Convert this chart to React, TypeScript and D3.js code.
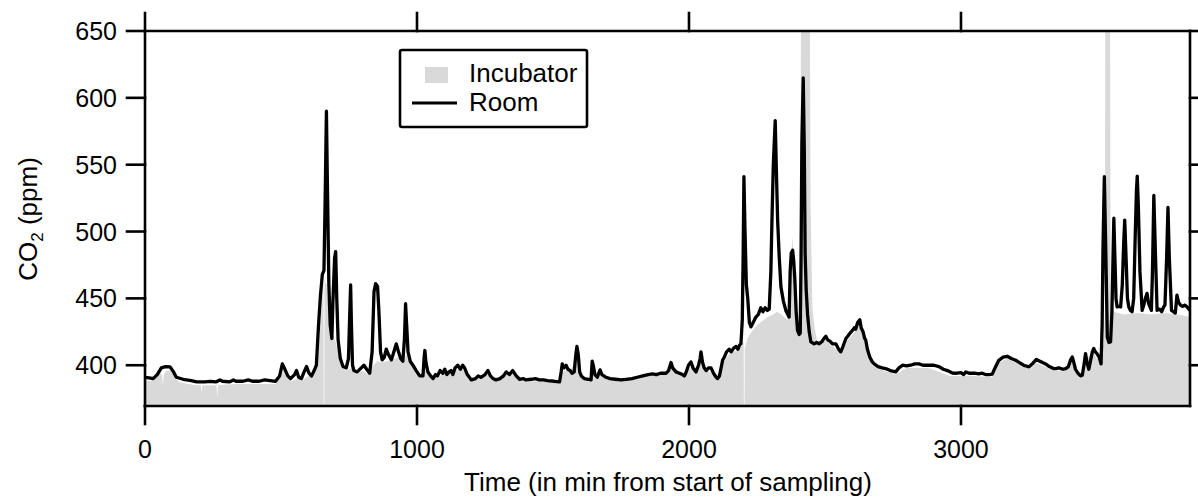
import React from "react";
import * as d3 from "d3";

const xTicks = [0, 1000, 2000, 3000];
const yTicks = [400, 450, 500, 550, 600, 650];
const legendLabels = ["Incubator", "Room"];
const xTitle = "Time (in min from start of sampling)";

// Room CO2 [minute, ppm]
const roomSeries: [number, number][] = [
  [0, 391], [15, 390.5], [30, 390], [45, 393], [60, 398], [75, 399], [92, 398.8], [105, 395], [115, 391],
  [140, 389.5], [170, 388.5], [190, 387.5], [220, 387.5], [240, 388], [260, 387.5], [275, 389], [285, 388],
  [310, 387.5], [325, 389], [335, 388], [360, 388], [380, 389], [395, 388], [420, 388], [440, 389], [460, 388.5],
  [480, 388], [495, 392], [505, 401], [512, 398], [525, 392], [535, 390], [550, 393], [557, 396], [565, 391],
  [575, 390], [585, 395], [594, 399], [603, 394], [612, 392], [622, 396], [630, 400], [638, 430], [645, 452],
  [652, 468], [658, 471], [662, 520], [667, 590], [671, 530], [676, 460], [681, 430], [687, 420], [691, 448],
  [697, 480], [701, 485], [705, 450], [710, 419], [718, 405], [728, 399], [740, 398], [748, 405], [753, 440],
  [756, 460], [759, 430], [763, 400], [768, 396], [780, 395], [795, 398], [805, 400], [815, 397], [826, 394],
  [835, 410], [842, 455], [848, 461], [855, 459], [860, 440], [866, 410], [872, 404], [880, 406], [887, 412],
  [895, 408], [906, 404], [915, 410], [924, 416], [932, 410], [940, 405], [948, 403], [954, 420], [958, 446],
  [962, 430], [967, 410], [975, 403], [985, 400], [997, 396], [1010, 392], [1022, 392], [1026, 405], [1029, 411],
  [1033, 402], [1040, 395], [1050, 392], [1059, 390], [1068, 393], [1075, 392], [1085, 396], [1095, 394],
  [1102, 397], [1110, 393], [1118, 395], [1125, 396], [1132, 393], [1140, 398], [1150, 400], [1160, 397],
  [1168, 400], [1175, 398], [1185, 393], [1200, 389], [1215, 390], [1225, 392], [1235, 391], [1250, 393],
  [1261, 396], [1270, 392], [1280, 390], [1290, 389], [1305, 390], [1318, 392], [1328, 395], [1340, 393],
  [1352, 396], [1365, 392], [1377, 389.5], [1390, 390], [1400, 389], [1420, 389.5], [1435, 390], [1450, 389],
  [1465, 389], [1480, 388.5], [1505, 388], [1524, 387.5], [1530, 395], [1534, 401], [1540, 398], [1548, 400],
  [1555, 397], [1563, 396], [1570, 394], [1578, 395], [1584, 408], [1588, 414], [1593, 408], [1598, 395],
  [1604, 392], [1615, 390], [1630, 389.5], [1640, 389], [1644, 403], [1648, 400], [1654, 393], [1663, 391],
  [1673, 396.5], [1680, 393], [1695, 391], [1710, 390], [1730, 389.5], [1750, 389], [1769, 389.5], [1790, 390],
  [1810, 391], [1830, 392], [1850, 393], [1866, 393.5], [1880, 393], [1895, 394], [1905, 394], [1916, 394],
  [1925, 396], [1934, 402], [1940, 398], [1952, 395], [1965, 394], [1976, 393], [1983, 392], [1990, 395],
  [1998, 400], [2007, 402.5], [2015, 398], [2026, 395], [2035, 400], [2041, 405], [2044, 410], [2050, 402],
  [2056, 398], [2063, 396], [2072, 398], [2081, 398], [2090, 394], [2100, 391], [2105, 390], [2112, 392],
  [2118, 398], [2124, 404], [2130, 406], [2138, 410], [2148, 412], [2155, 410], [2165, 413], [2173, 414],
  [2180, 412], [2186, 415], [2191, 416], [2196, 434], [2199, 480], [2202, 541], [2206, 500], [2211, 460],
  [2216, 450], [2222, 432], [2228, 428.7], [2236, 432], [2246, 436], [2255, 438], [2264, 443], [2272, 440],
  [2280, 443], [2288, 441], [2295, 442], [2301, 470], [2305, 508], [2310, 550], [2317, 583], [2322, 540],
  [2326, 508], [2332, 480], [2338, 458.6], [2347, 448], [2356, 441], [2368, 436], [2372, 470], [2376, 484],
  [2381, 486], [2385, 478], [2389, 465], [2394, 440], [2399, 426], [2405, 423], [2409, 424], [2412, 480],
  [2415, 566], [2420, 615], [2424, 560], [2427, 484], [2431, 456], [2436, 438], [2442, 425], [2448, 417.5],
  [2460, 416], [2470, 417], [2479, 416], [2490, 418], [2496, 420], [2503, 421.7], [2510, 419], [2518, 418],
  [2528, 416], [2540, 416], [2550, 412], [2558, 410], [2566, 414], [2577, 420], [2585, 422], [2592, 424],
  [2601, 426], [2608, 428], [2613, 427], [2620, 432], [2628, 434], [2633, 428], [2640, 425], [2646, 420],
  [2650, 418.7], [2656, 412], [2665, 406], [2674, 402.5], [2681, 401], [2695, 399], [2710, 398], [2723, 397.5],
  [2740, 396], [2760, 395], [2772, 398], [2785, 400], [2800, 399.5], [2815, 400], [2830, 401], [2846, 401],
  [2860, 400], [2880, 400], [2900, 400], [2919, 399], [2935, 397], [2950, 396], [2968, 394.2], [2985, 394],
  [3000, 394.5], [3010, 393], [3018, 395], [3030, 394], [3050, 394], [3065, 393.5], [3078, 394], [3090, 393],
  [3105, 393], [3115, 393.3], [3125, 398], [3139, 403.7], [3155, 406], [3170, 406.7], [3185, 405], [3201, 403.7],
  [3215, 402], [3230, 400], [3250, 398.8], [3262, 401], [3277, 404.3], [3290, 403], [3300, 402], [3311, 401],
  [3325, 399], [3340, 397.5], [3348, 397.5], [3360, 398], [3375, 397], [3385, 397.5], [3395, 399], [3403, 404],
  [3409, 406.2], [3415, 402], [3421, 397], [3430, 394], [3440, 392], [3446, 392.5], [3452, 400], [3458, 408.7],
  [3463, 402], [3470, 397], [3477, 404], [3483, 410], [3488, 412.5], [3494, 410], [3500, 408.7], [3508, 406],
  [3515, 401], [3519, 430], [3522, 486], [3527, 541], [3532, 490], [3538, 421], [3544, 417], [3550, 417.5],
  [3555, 440], [3559, 480], [3562, 510], [3566, 480], [3570, 450], [3574, 443.6], [3580, 444], [3587, 443.6],
  [3593, 460], [3598, 490], [3602, 508.5], [3607, 480], [3612, 450], [3617, 443.6], [3623, 441], [3629, 440],
  [3635, 450], [3641, 500], [3645, 530], [3648, 541.5], [3652, 520], [3658, 470], [3666, 441], [3672, 445],
  [3678, 450], [3684, 453.7], [3690, 446], [3700, 441], [3704, 470], [3709, 527], [3714, 490], [3721, 441],
  [3730, 442], [3738, 440], [3745, 443.6], [3750, 445], [3756, 480], [3761, 518], [3766, 480], [3774, 441],
  [3781, 440], [3788, 439], [3794, 452.4], [3800, 447], [3807, 445], [3815, 444], [3824, 445], [3831, 443.6],
  [3842, 441],
];

// Incubator CO2 [minute, ppm]
const incubatorSeries: [number, number][] = [
  [0, 389], [20, 388], [40, 390], [55, 395], [63, 392], [66, 384], [69, 393], [80, 396], [95, 396], [110, 390],
  [130, 387], [160, 386], [190, 385], [205, 385], [208, 380], [211, 385], [240, 385], [263, 385], [266, 376],
  [269, 385], [300, 385.5], [340, 386], [380, 386], [420, 386], [460, 386], [480, 386], [500, 391], [510, 397],
  [520, 392], [540, 388], [560, 390], [580, 389], [600, 392], [620, 393], [635, 400], [645, 430], [652, 455],
  [656, 462], [657, 360], [659, 360], [660, 464], [668, 460], [675, 440], [685, 425], [700, 418], [710, 410],
  [720, 400], [735, 396], [750, 397], [760, 398], [780, 394], [800, 396], [820, 393], [840, 400], [855, 403],
  [870, 402], [890, 403], [910, 404], [930, 406], [950, 404], [960, 408], [975, 401], [990, 398], [1010, 392],
  [1028, 398], [1045, 393], [1080, 392], [1110, 394], [1150, 397], [1175, 396], [1200, 388], [1260, 393],
  [1300, 388], [1330, 393], [1355, 394], [1380, 388], [1450, 388], [1524, 387], [1540, 396], [1560, 396],
  [1590, 403], [1605, 392], [1640, 388], [1650, 396], [1673, 394], [1700, 390], [1770, 389], [1850, 392],
  [1920, 393], [1935, 398], [1980, 391], [2007, 399], [2030, 394], [2045, 404], [2070, 396], [2105, 389],
  [2130, 403], [2150, 409], [2175, 411], [2195, 414], [2201, 418], [2202, 360], [2204, 360], [2205, 412],
  [2215, 420], [2230, 425], [2250, 430], [2270, 433], [2290, 436], [2310, 438], [2323, 440], [2340, 438],
  [2360, 434], [2370, 460], [2380, 496], [2386, 480], [2395, 440], [2405, 424], [2410, 460], [2412, 700],
  [2444, 700], [2447, 520], [2454, 441], [2462, 428], [2470, 419], [2480, 415], [2500, 419], [2530, 414],
  [2558, 408], [2580, 418], [2605, 424], [2628, 431], [2650, 416], [2674, 400], [2700, 397], [2760, 393],
  [2800, 398], [2880, 398], [2960, 392], [3050, 392], [3115, 391], [3139, 402], [3170, 405], [3201, 402],
  [3250, 397], [3277, 402], [3340, 396], [3385, 396], [3409, 403], [3446, 391], [3458, 405], [3488, 409],
  [3515, 400], [3525, 420], [3529, 440], [3531, 700], [3548, 700], [3550, 450], [3560, 440], [3600, 438],
  [3650, 439], [3700, 438], [3750, 439], [3800, 438], [3842, 436],
];

const FONT = "'Liberation Sans', Arial, Helvetica, sans-serif";
const GRAY = "#d9d9d9";

export default function App() {
  const W = 1198;
  const H = 498;
  const L = 145, R = 1190, T = 31, B = 406;
  const tick = 18;
  const x = d3.scaleLinear().domain([0, 3842]).range([L, R]);
  const y = d3.scaleLinear().domain([369.5, 650]).range([B, T]);

  const area = d3
    .area<[number, number]>()
    .x((d) => x(d[0]))
    .y0(B)
    .y1((d) => y(d[1]));
  const line = d3
    .line<[number, number]>()
    .x((d) => x(d[0]))
    .y((d) => y(d[1]));

  const axisStroke = 2.6;

  return (
    <svg
      width={W}
      height={H}
      viewBox={`0 0 ${W} ${H}`}
      style={{ position: "absolute", left: 0, top: 0, display: "block", background: "#fff" }}
      fontFamily={FONT}
    >
      <defs>
        <clipPath id="plotClip">
          <rect x={L} y={T} width={R - L} height={B - T} />
        </clipPath>
      </defs>
      <rect x={0} y={0} width={W} height={H} fill="#fff" />
      <g clipPath="url(#plotClip)">
        <path d={area(incubatorSeries) || ""} fill={GRAY} stroke="none" />
        <path
          d={line(roomSeries) || ""}
          fill="none"
          stroke="#000"
          strokeWidth={3.3}
          strokeLinejoin="round"
        />
      </g>

      {/* frame */}
      <g stroke="#000" strokeWidth={axisStroke} strokeLinecap="square">
        <line x1={L} x2={R} y1={T} y2={T} />
        <line x1={L} x2={R} y1={B} y2={B} />
        <line x1={L} x2={L} y1={T} y2={B} />
        <line x1={R} x2={R} y1={T} y2={B} />
        {xTicks.map((t) => (
          <g key={`xt${t}`}>
            <line x1={x(t)} x2={x(t)} y1={B} y2={B + tick} />
            <line x1={x(t)} x2={x(t)} y1={T} y2={T - tick} />
          </g>
        ))}
        {yTicks.map((v) => (
          <g key={`yt${v}`}>
            <line x1={L} x2={L - tick} y1={y(v)} y2={y(v)} />
            <line x1={R} x2={R + tick} y1={y(v)} y2={y(v)} />
          </g>
        ))}
      </g>

      {/* tick labels */}
      <g fontSize={25} fill="#000">
        {xTicks.map((t) => (
          <text key={`xl${t}`} x={x(t)} y={458} textAnchor="middle">
            {t}
          </text>
        ))}
        {yTicks.map((v) => (
          <text key={`yl${v}`} x={117} y={y(v) + 9} textAnchor="end">
            {v}
          </text>
        ))}
      </g>

      {/* axis titles */}
      <text x={668} y={491} textAnchor="middle" fontSize={26} fill="#000">
        {xTitle}
      </text>
      <text
        transform={`translate(37,219) rotate(-90)`}
        textAnchor="middle"
        fontSize={26}
        fill="#000"
      >
        CO
        <tspan fontSize={17} dy={6}>2</tspan>
        <tspan dy={-6}> (ppm)</tspan>
      </text>

      {/* legend */}
      <g>
        <rect x={400} y={50} width={187} height={77} rx={2} fill="#fff" stroke="#000" strokeWidth={2.6} />
        <rect x={425} y={67} width={23} height={16} fill={GRAY} />
        <line x1={412} x2={457} y1={103} y2={103} stroke="#000" strokeWidth={3} />
        <text x={469} y={82} fontSize={26} fill="#000">{legendLabels[0]}</text>
        <text x={469} y={111} fontSize={26} fill="#000">{legendLabels[1]}</text>
      </g>
    </svg>
  );
}
